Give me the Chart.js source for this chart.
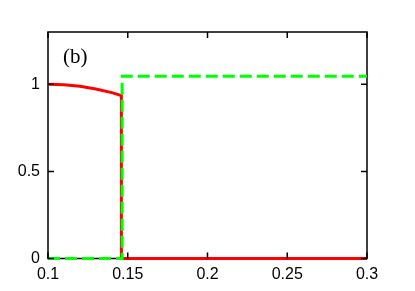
<!DOCTYPE html>
<html>
<head>
<meta charset="utf-8">
<script src="https://cdn.jsdelivr.net/npm/chart.js@4/dist/chart.umd.min.js"></script>
<style>
  html, body { margin: 0; padding: 0; background: #fff; }
  #wrap { width: 415px; height: 291px; }
</style>
</head>
<body>
<div id="wrap"><canvas id="chart"></canvas></div>
<script>
// Red solid curve (drops to zero near x = 0.146)
const redX = [0.1, 0.11, 0.12, 0.13, 0.14, 0.146, 0.146, 0.3];
const redY = [1.0, 0.997, 0.988, 0.973, 0.952, 0.935, 0, 0];

// Green dashed step
const greenX = [0.1, 0.1465, 0.1465, 0.3];
const greenY = [0, 0, 1.046, 1.046];

// Tick labels
const xTicks = [0.1, 0.15, 0.2, 0.25, 0.3];
const yTicks = [0, 0.5, 1];

const panelLabel = '(b)';

const toPoints = (xs, ys) => xs.map((x, i) => ({ x: x, y: ys[i] }));

// Frame, inward ticks on all four sides, and the panel label
const framePlugin = {
    id: 'frame',
    beforeDatasetsDraw(chart) {
        const ctx = chart.ctx;
        const a = chart.chartArea;
        ctx.save();
        ctx.strokeStyle = '#000';
        ctx.lineWidth = 1.5;
        ctx.strokeRect(a.left, a.top, a.right - a.left, a.bottom - a.top);
        ctx.restore();
    },
    afterDraw(chart) {
        const ctx = chart.ctx;
        const a = chart.chartArea;
        const xs = chart.scales.x, ys = chart.scales.y;
        const len = 6;
        ctx.save();
        ctx.strokeStyle = '#000';
        ctx.lineWidth = 1.5;
        ctx.beginPath();
        xTicks.forEach(v => {
            const px = xs.getPixelForValue(v);
            ctx.moveTo(px, a.bottom); ctx.lineTo(px, a.bottom - len);
            ctx.moveTo(px, a.top); ctx.lineTo(px, a.top + len);
        });
        yTicks.forEach(v => {
            const py = ys.getPixelForValue(v);
            ctx.moveTo(a.left, py); ctx.lineTo(a.left + len, py);
            ctx.moveTo(a.right, py); ctx.lineTo(a.right - len, py);
        });
        ctx.stroke();
        ctx.fillStyle = '#000';
        ctx.font = '21px "Liberation Serif", "DejaVu Serif", serif';
        ctx.textBaseline = 'alphabetic';
        ctx.fillText(panelLabel, a.left + 15, a.top + 31);
        ctx.restore();
    }
};

new Chart(document.getElementById('chart'), {
    type: 'scatter',
    data: {
        datasets: [
            {
                label: 'green',
                data: toPoints(greenX, greenY),
                showLine: true,
                borderColor: '#00ff00',
                borderWidth: 3,
                borderDash: [12, 5],
                pointRadius: 0,
                clip: false,
                order: 0
            },
            {
                label: 'red',
                data: toPoints(redX, redY),
                showLine: true,
                borderColor: '#ff0000',
                borderWidth: 3,
                pointRadius: 0,
                clip: false,
                order: 1
            }
        ]
    },
    options: {
        responsive: true,
        maintainAspectRatio: false,
        animation: false,
        layout: { padding: { top: 32, right: 48, left: 0, bottom: 0 } },
        plugins: { legend: { display: false }, tooltip: { enabled: false } },
        scales: {
            x: {
                type: 'linear',
                min: 0.1,
                max: 0.3,
                afterBuildTicks: s => { s.ticks = xTicks.map(v => ({ value: v })); },
                afterFit: s => { s.height = 32.5; },
                grid: { display: false, drawTicks: false },
                border: { display: false },
                ticks: {
                    padding: 6,
                    color: '#000',
                    font: { family: '"Liberation Sans", Arial, sans-serif', size: 16 },
                    callback: v => String(+v.toFixed(2))
                }
            },
            y: {
                type: 'linear',
                min: 0,
                max: 1.3,
                afterBuildTicks: s => { s.ticks = yTicks.map(v => ({ value: v })); },
                afterFit: s => { s.width = 48; },
                grid: { display: false, drawTicks: false },
                border: { display: false },
                ticks: {
                    padding: 8,
                    color: '#000',
                    font: { family: '"Liberation Sans", Arial, sans-serif', size: 16 },
                    callback: v => String(v)
                }
            }
        }
    },
    plugins: [framePlugin]
});
</script>
</body>
</html>
